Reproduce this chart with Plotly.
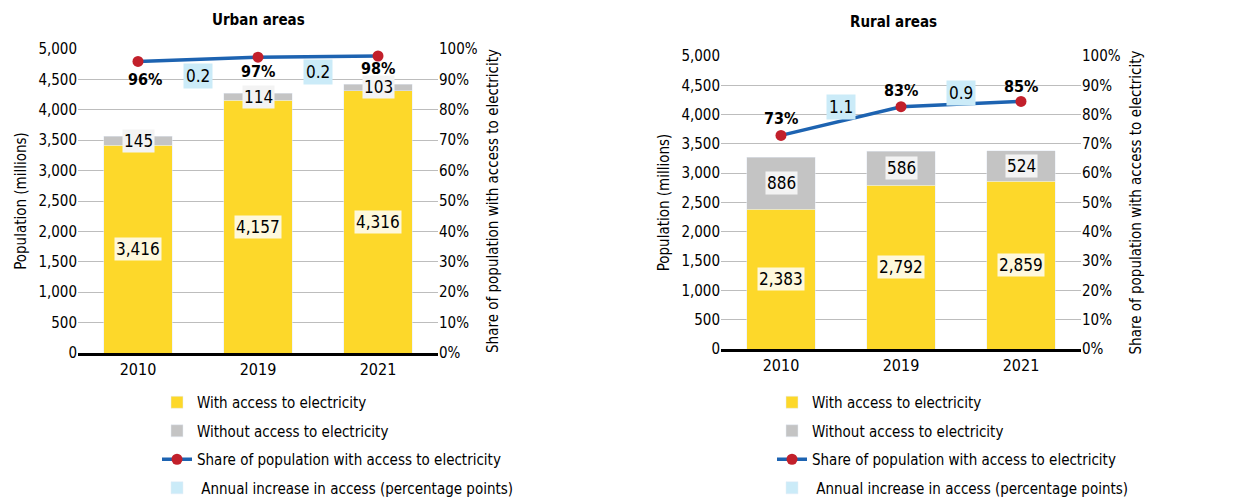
import plotly.graph_objects as go

years = ["2010", "2019", "2021"]

urban_with = [3416, 4157, 4316]
urban_without = [145, 114, 103]
urban_share = [95.9, 97.3, 97.7]
urban_share_labels = ["96%", "97%", "98%"]
urban_increase = [0.2, 0.2]

rural_with = [2383, 2792, 2859]
rural_without = [886, 586, 524]
rural_share = [72.9, 82.7, 84.5]
rural_share_labels = ["73%", "83%", "85%"]
rural_increase = [1.1, 0.9]

YELLOW = "#FDD82A"
GRAY = "#C4C4C4"
BLUE = "#1D63B1"
RED = "#C2202B"
LIGHTBLUE = "#CBEBF8"
FONT = "'DejaVu Sans Condensed', 'Liberation Sans Narrow', Roboto, sans-serif"
OFF = 8  # page body margin
W, H = 1233 - OFF, 498 - OFF

xpos = list(range(len(years)))

fig = go.Figure()


def px_x(p):
    return (p - OFF) / W


def px_y(p):
    return 1 - (p - OFF) / H


panels = [
    dict(xa="x", ya="y", ya2="y2", leg="legend", wv=urban_with, wo=urban_without,
         sh=urban_share, shl=urban_share_labels, inc=urban_increase, title="Urban areas",
         pct_shift=[-18, -14, -13], inc_shift=[-17, -15]),
    dict(xa="x2", ya="y3", ya2="y4", leg="legend2", wv=rural_with, wo=rural_without,
         sh=rural_share, shl=rural_share_labels, inc=rural_increase, title="Rural areas",
         pct_shift=[17, 16, 15], inc_shift=[14, 11]),
]

annotations = []
for i, p in enumerate(panels):
    fig.add_trace(go.Bar(x=xpos, y=p["wv"], name="With access to electricity",
                         marker_color=YELLOW, xaxis=p["xa"], yaxis=p["ya"], width=0.57,
                         legend=p["leg"], legendgroup="a"))
    fig.add_trace(go.Bar(x=xpos, y=p["wo"], name="Without access to electricity",
                         marker_color=GRAY, xaxis=p["xa"], yaxis=p["ya"], width=0.57,
                         legend=p["leg"], legendgroup="b"))
    fig.add_trace(go.Scatter(x=xpos, y=p["sh"], name="Share of population with access to electricity",
                             mode="lines+markers", line=dict(color=BLUE, width=3.5),
                             marker=dict(color=RED, size=11),
                             xaxis=p["xa"], yaxis=p["ya2"], legend=p["leg"], legendgroup="c"))
    fig.add_trace(go.Bar(x=[-5], y=[0], name=" Annual increase in access (percentage points)",
                         marker_color=LIGHTBLUE, xaxis=p["xa"], yaxis=p["ya"],
                         legend=p["leg"], legendgroup="d"))
    for j in xpos:
        wv, wo = p["wv"][j], p["wo"][j]
        annotations.append(dict(x=j, y=wv / 2, xref=p["xa"], yref=p["ya"],
                                text=f"{wv:,}", showarrow=False, bgcolor="#FEF8DC",
                                font=dict(family=FONT, size=17, color="black"), borderpad=1))
        annotations.append(dict(x=j, y=wv + wo / 2, xref=p["xa"], yref=p["ya"],
                                text=f"{wo:,}", showarrow=False, bgcolor="#F3F3F3",
                                font=dict(family=FONT, size=17, color="black"), borderpad=1))
        annotations.append(dict(x=j + (0.06 if (i == 0 and j == 0) else 0), y=p["sh"][j],
                                xref=p["xa"], yref=p["ya2"],
                                text=f"<b>{p['shl'][j]}</b>", showarrow=False,
                                yshift=p["pct_shift"][j],
                                font=dict(family=FONT, size=16, color="black")))
    for k, v in enumerate(p["inc"]):
        mid = (p["sh"][k] + p["sh"][k + 1]) / 2
        annotations.append(dict(x=k + 0.5, y=mid, xref=p["xa"], yref=p["ya2"],
                                text=f"{v}", showarrow=False, bgcolor=LIGHTBLUE,
                                yshift=p["inc_shift"][k], borderpad=2,
                                font=dict(family=FONT, size=17, color="black")))
    cx, cy = (258, 20) if i == 0 else (893, 22)
    annotations.append(dict(x=px_x(cx), y=px_y(cy), xref="paper", yref="paper",
                            xanchor="center", yanchor="middle",
                            text=f"<b>{p['title']}</b>", showarrow=False,
                            font=dict(family=FONT, size=15, color="black")))

axis_font = dict(family=FONT, size=15, color="black")
title_font = dict(family=FONT, size=15, color="black")

common_x = dict(range=[-0.5, 2.5], tickvals=xpos, ticktext=years,
                showline=True, linecolor="black", linewidth=2.5, ticks="",
                tickfont=dict(family=FONT, size=16, color="black"),
                showgrid=False, zeroline=False)
common_y = dict(range=[0, 5000], dtick=500, tickformat=",d", showgrid=True,
                gridcolor="#BDBDBD", gridwidth=1, zeroline=False, tickfont=axis_font,
                ticks="", title=dict(text="Population (millions)", font=title_font, standoff=8))
common_y2 = dict(range=[0, 100], dtick=10, ticksuffix="%", showgrid=False, zeroline=False,
                 side="right", tickfont=axis_font, ticks="",
                 title=dict(text="Share of population with access to electricity",
                            font=title_font, standoff=10))

fig.update_layout(
    width=W, height=H,
    margin=dict(l=0, r=0, t=0, b=0, autoexpand=False),
    paper_bgcolor="white", plot_bgcolor="white",
    barmode="stack",
    showlegend=True,
    xaxis=dict(domain=[px_x(78), px_x(438)], anchor="y", **common_x),
    yaxis=dict(domain=[px_y(353), px_y(49)], anchor="x", **common_y),
    yaxis2=dict(domain=[px_y(353), px_y(49)], anchor="x", overlaying="y", **common_y2),
    xaxis2=dict(domain=[px_x(721), px_x(1081)], anchor="y3", **common_x),
    yaxis3=dict(domain=[px_y(349), px_y(56)], anchor="x2", **common_y),
    yaxis4=dict(domain=[px_y(349), px_y(56)], anchor="x2", overlaying="y3", **common_y2),
    legend=dict(x=px_x(157), y=px_y(386), xanchor="left", yanchor="top",
                font=dict(family=FONT, size=15, color="black"), tracegroupgap=6,
                bgcolor="rgba(0,0,0,0)"),
    legend2=dict(x=px_x(772), y=px_y(386), xanchor="left", yanchor="top",
                 font=dict(family=FONT, size=15, color="black"), tracegroupgap=6,
                 bgcolor="rgba(0,0,0,0)"),
    annotations=annotations,
)

fig.write_html("out.html")
